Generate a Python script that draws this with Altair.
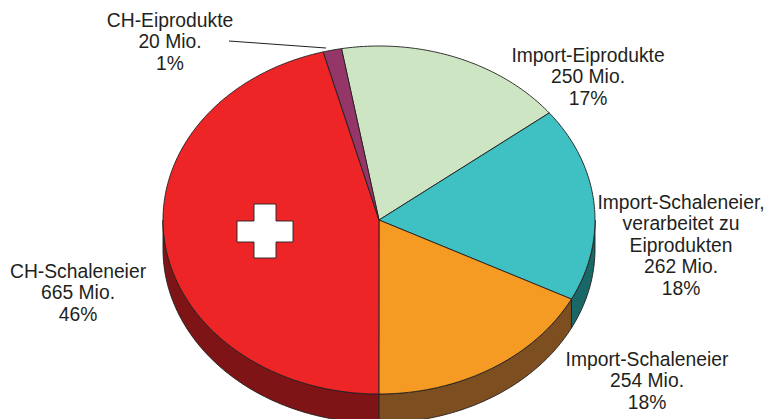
import math
import altair as alt

# Values
names = ["Import-Eiprodukte", "Import-Schaleneier verarbeitet", "Import-Schaleneier", "CH-Schaleneier", "CH-Eiprodukte"]
values = [250, 262, 254, 665, 20]
top_colors = ["#cde5c3", "#3fc0c3", "#f59a23", "#ee2527", "#943668"]
wall_colors = ["#6f8a66", "#1a6767", "#7d4e20", "#7f1416", "#5a2040"]

label_text = [
    "CH-Eiprodukte\n20 Mio.\n1%",
    "Import-Eiprodukte\n250 Mio.\n17%",
    "Import-Schaleneier,\nverarbeitet zu\nEiprodukten\n262 Mio.\n18%",
    "Import-Schaleneier\n254 Mio.\n18%",
    "CH-Schaleneier\n665 Mio.\n46%",
]
label_x = [162, 580, 673, 639, 70]
label_y = [4, 39, 186, 343, 255]

# Layout of the tilted pie, in chart pixels
W, H = 757, 411
CX, CY, RX, RY, DEPTH = 371, 212, 216, 174, 29
START = -10.0
FONT = "Liberation Sans"
INK = "#231f20"


def pt(deg, dy=0):
    r = math.radians(deg)
    return [CX + RX * math.sin(r), CY - RY * math.cos(r) + dy]


def arc(a, b, dy=0):
    n = max(2, int(abs(b - a)) + 1)
    return [pt(a + (b - a) * i / n, dy) for i in range(n + 1)]


def feature(name, ring):
    return {"type": "Feature", "properties": {"name": name},
            "geometry": {"type": "Polygon", "coordinates": [ring + [ring[0]]]}}


total = sum(values)
tops, walls = [], []
a = START
for n, v in zip(names, values):
    b = a + v / total * 360
    tops.append(feature(n, [[CX, CY]] + arc(a, b)))
    lo, hi = max(a, 90), min(b, 270)
    if lo < hi:
        walls.append(feature("wall " + n, arc(lo, hi) + arc(hi, lo, DEPTH)))
    a = b

cx0, cx1, cx2, cx3 = 229, 246, 268, 285
cy0, cy1, cy2, cy3 = 196, 213, 234, 250
cross = feature("cross", [[cx1, cy0], [cx2, cy0], [cx2, cy1], [cx3, cy1], [cx3, cy2], [cx2, cy2],
                          [cx2, cy3], [cx1, cy3], [cx1, cy2], [cx0, cy2], [cx0, cy1], [cx1, cy1]])
leader = {"type": "Feature", "properties": {"name": "leader"},
          "geometry": {"type": "LineString", "coordinates": [[221, 33], [318, 40]]}}

fill_scale = alt.Scale(
    domain=names + ["wall " + n for n in names] + ["cross"],
    range=top_colors + wall_colors + ["#ffffff"],
)
proj = alt.Projection(type="identity", scale=1, translate=[0, 0])


def shapes(features):
    return (
        alt.Chart(alt.Data(values=features))
        .mark_geoshape(stroke=INK, strokeWidth=0.9, strokeJoin="round")
        .encode(fill=alt.Fill("properties.name:N", scale=fill_scale, legend=None))
        .project(**proj.to_dict())
    )


line = (
    alt.Chart(alt.Data(values=[leader]))
    .mark_geoshape(filled=False, stroke=INK, strokeWidth=1)
    .project(**proj.to_dict())
)

labels = (
    alt.Chart(alt.Data(values=[{"t": t, "x": x, "y": y} for t, x, y in zip(label_text, label_x, label_y)]))
    .mark_text(font=FONT, fontSize=19.3, color=INK, align="center", baseline="top", lineBreak="\n", lineHeight=21.4)
    .encode(
        x=alt.X("x:Q", scale=alt.Scale(domain=[0, W], range=[0, W]), axis=None),
        y=alt.Y("y:Q", scale=alt.Scale(domain=[0, H], range=[0, H]), axis=None),
        text="t:N",
    )
)

chart = (
    alt.layer(shapes(walls), shapes(tops), shapes([cross]), line, labels)
    .properties(width=W, height=H, padding=0, autosize=alt.AutoSizeParams(type="none"), background="#ffffff")
    .configure_view(stroke=None)
)
chart.save("out.html", embed_options={"renderer": "svg", "actions": False})
